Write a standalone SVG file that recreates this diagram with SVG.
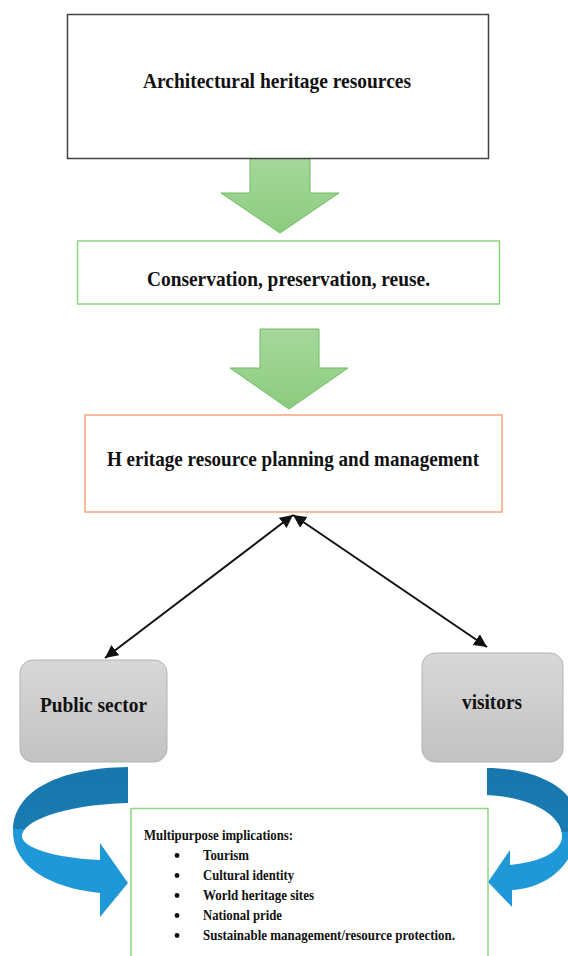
<svg xmlns="http://www.w3.org/2000/svg" width="568" height="956" viewBox="0 0 568 956">
<style>
.t{font-family:"Liberation Serif","Times New Roman",serif;font-weight:bold;fill:#111}
.big{font-size:22px}
.sm{font-size:15px}
.box{fill:#fff}
.garrow{fill:url(#gg);stroke:#6dbd60;stroke-width:1}
.gray{fill:url(#gray);stroke:#b3b3b3;stroke-width:1}
.conn{fill:none;stroke:#111;stroke-width:2}
</style>
<defs>
<linearGradient id="gg" x1="0" y1="0" x2="0" y2="1">
<stop offset="0" stop-color="#a6d89c"/>
<stop offset="1" stop-color="#8ccc7e"/>
</linearGradient>
<linearGradient id="gray" x1="0" y1="0" x2="0" y2="1">
<stop offset="0" stop-color="#d8d8d8"/>
<stop offset="1" stop-color="#c2c2c2"/>
</linearGradient>
<linearGradient id="bl" gradientUnits="userSpaceOnUse" x1="0" y1="760" x2="0" y2="920">
<stop offset="0" stop-color="#1776ab"/>
<stop offset="0.43" stop-color="#1a7cb2"/>
<stop offset="0.43" stop-color="#1e98d6"/>
<stop offset="1" stop-color="#1e98d6"/>
</linearGradient>
<linearGradient id="br" gradientUnits="userSpaceOnUse" x1="0" y1="760" x2="0" y2="920">
<stop offset="0" stop-color="#1776ab"/>
<stop offset="0.45" stop-color="#1a7cb2"/>
<stop offset="0.45" stop-color="#1e98d6"/>
<stop offset="1" stop-color="#1e98d6"/>
</linearGradient>
<marker id="ah" viewBox="0 0 10 10" refX="10" refY="5" markerWidth="6.5" markerHeight="6.5" orient="auto-start-reverse">
<path d="M0,0 L10,5 L0,10 Z" fill="#111"/>
</marker>
</defs>

<g id="connectors">
<path class="garrow" d="M250,154 L310,154 L310,193 L339,193 L280,233 L221,193 L250,193 Z"/>
<path class="garrow" d="M260,329 L319,329 L319,368 L348,368 L289,409 L230,368 L260,368 Z"/>
<path class="conn" d="M293,515 L105,658" marker-start="url(#ah)" marker-end="url(#ah)"/>
<path class="conn" d="M293,515 L487,647" marker-start="url(#ah)" marker-end="url(#ah)"/>
<path fill="url(#bl)" d="M128,767 C60,768 14,790 13,830 C12,866 50,888 100,893 L100,917 L128,883 L100,843 L100,860 C55,858 22,848 22,836 C22,822 60,805 128,803 Z"/>
<path fill="url(#br)" d="M487,768 C530,768 575,785 578,820 C580,860 550,888 512,890 L512,907 L488,882 L510,850 L510,865 C540,862 562,852 562,836 C562,815 530,797 487,795 Z"/>
</g>

<g id="n1">
<rect class="box" x="67.5" y="14.5" width="421" height="144" stroke="#444" stroke-width="1.5"/>
<text class="t big" x="277" y="88" text-anchor="middle" textLength="268" lengthAdjust="spacingAndGlyphs">Architectural heritage resources</text>
</g>

<g id="n2">
<rect class="box" x="77.5" y="241" width="422" height="63" stroke="#8ed47f" stroke-width="1.5"/>
<text class="t big" x="288.5" y="286" text-anchor="middle" textLength="283" lengthAdjust="spacingAndGlyphs">Conservation, preservation, reuse.</text>
</g>

<g id="n3">
<rect class="box" x="85" y="415" width="417" height="97" stroke="#f6a77c" stroke-width="1.5"/>
<text class="t big" x="107" y="466" textLength="372" lengthAdjust="spacingAndGlyphs">H eritage resource planning and management</text>
</g>

<g id="n4">
<rect class="gray" x="20" y="660" width="147" height="102" rx="13"/>
<text class="t big" x="40" y="712" textLength="107" lengthAdjust="spacingAndGlyphs">Public sector</text>
</g>

<g id="n5">
<rect class="gray" x="422" y="653" width="141" height="109" rx="13"/>
<text class="t big" x="462" y="709" textLength="60" lengthAdjust="spacingAndGlyphs">visitors</text>
</g>

<g id="n6">
<rect class="box" x="131" y="808.5" width="357" height="160" stroke="#8ed47f" stroke-width="1.5"/>
<text class="t sm" x="144" y="840" textLength="149" lengthAdjust="spacingAndGlyphs">Multipurpose implications:</text>
<g fill="#111">
<circle cx="177" cy="855.5" r="2.4"/>
<circle cx="177" cy="875.5" r="2.4"/>
<circle cx="177" cy="895.5" r="2.4"/>
<circle cx="177" cy="915.5" r="2.4"/>
<circle cx="177" cy="935.5" r="2.4"/>
</g>
<text class="t sm" x="203" y="860" textLength="46" lengthAdjust="spacingAndGlyphs">Tourism</text>
<text class="t sm" x="203" y="880" textLength="91" lengthAdjust="spacingAndGlyphs">Cultural identity</text>
<text class="t sm" x="203" y="900" textLength="111" lengthAdjust="spacingAndGlyphs">World heritage sites</text>
<text class="t sm" x="203" y="920" textLength="79" lengthAdjust="spacingAndGlyphs">National pride</text>
<text class="t sm" x="203" y="940" textLength="252" lengthAdjust="spacingAndGlyphs">Sustainable  management/resource protection.</text>
</g>
</svg>
